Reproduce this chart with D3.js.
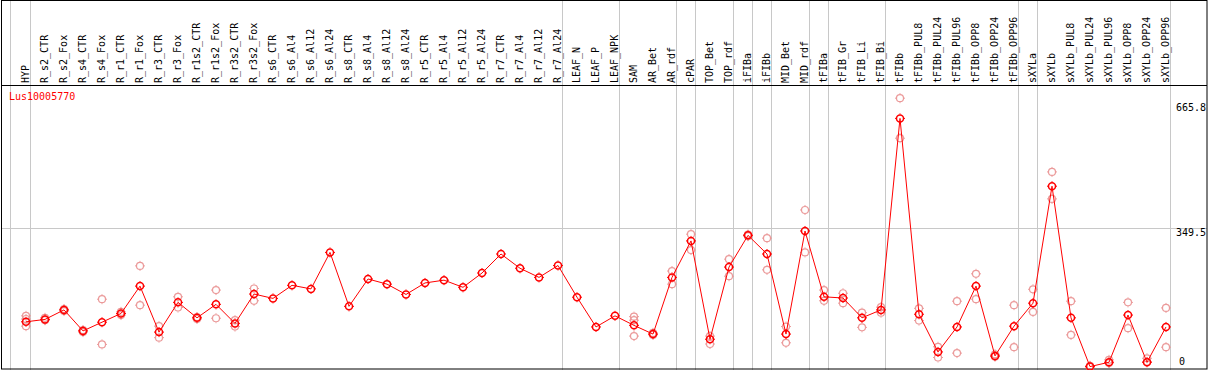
<!DOCTYPE html>
<html>
<head>
<meta charset="utf-8">
<script src="https://cdn.jsdelivr.net/npm/d3@7"></script>
<style>
  html, body { margin: 0; padding: 0; background: #fff; }
  svg { display: block; }
  text { font-family: "DejaVu Sans Mono", monospace; font-size: 10px; }
</style>
</head>
<body>
<svg id="chart" width="1209" height="370"></svg>
<script>
var GENE = "Lus10005770";

var categories = [
  "HYP", "R_s2_CTR", "R_s2_Fox", "R_s4_CTR", "R_s4_Fox", "R_r1_CTR", "R_r1_Fox",
  "R_r3_CTR", "R_r3_Fox", "R_r1s2_CTR", "R_r1s2_Fox", "R_r3s2_CTR", "R_r3s2_Fox",
  "R_s6_CTR", "R_s6_Al4", "R_s6_Al12", "R_s6_Al24", "R_s8_CTR", "R_s8_Al4",
  "R_s8_Al12", "R_s8_Al24", "R_r5_CTR", "R_r5_Al4", "R_r5_Al12", "R_r5_Al24",
  "R_r7_CTR", "R_r7_Al4", "R_r7_Al12", "R_r7_Al24", "LEAF_N", "LEAF_P", "LEAF_NPK",
  "SAM", "AR_Bet", "AR_rdf", "cPAR", "TOP_Bet", "TOP_rdf", "iFIBa", "iFIBb",
  "MID_Bet", "MID_rdf", "tFIBa", "tFIB_Gr", "tFIB_Li", "tFIB_Bi", "tFIBb",
  "tFIBb_PUL8", "tFIBb_PUL24", "tFIBb_PUL96", "tFIBb_OPP8", "tFIBb_OPP24", "tFIBb_OPP96",
  "sXYLa", "sXYLb", "sXYLb_PUL8", "sXYLb_PUL24", "sXYLb_PUL96", "sXYLb_OPP8",
  "sXYLb_OPP24", "sXYLb_OPP96"
];

// mean expression per sample
var means = [
  114, 120, 144, 91, 113, 135, 204, 88, 163, 124, 158, 110, 184,
  173, 206, 197, 289, 153, 222, 209, 183, 212, 219, 201, 237,
  285, 249, 226, 256, 176, 101, 129,
  105, 83, 226, 318, 70, 252, 332, 285,
  83, 343, 177, 174, 124, 144, 627,
  133, 38, 101, 204, 28, 103,
  161, 456, 124, 1, 12, 131, 12, 101
];

// individual replicates (empty where they sit under the mean)
var replicates = [
  [129, 121, 103], [124, 118], [146, 141], [93, 88], [171, 57], [139, 131], [255, 156],
  [103, 74], [177, 150], [126, 121], [194, 123], [118, 102], [198, 167],
  [], [], [], [], [], [], [], [], [], [], [], [],
  [], [], [], [], [], [], [],
  [127, 118, 78], [86, 81], [242, 209], [335, 295], [78, 58], [272, 229], [334, 330], [325, 245],
  [102, 61], [396, 289], [194, 167], [186, 161], [137, 100], [151, 137], [678, 577],
  [148, 117], [51, 24], [166, 35], [235, 171], [32, 26], [156, 50],
  [196, 139], [492, 424], [166, 81], [3, 0], [18, 10], [163, 98], [22, 13], [149, 50]
];

// last sample of each group; a grey rule follows it
var groupEnds = [
  "HYP", "R_r7_Al24", "LEAF_NPK", "AR_rdf", "cPAR", "TOP_rdf", "iFIBa", "iFIBb",
  "MID_rdf", "tFIBa", "tFIB_Bi", "tFIBb_OPP96", "sXYLa", "sXYLb_OPP96"
];

var yTicks = [0, 349.5, 665.8];

var W = 1209, H = 370;
var HEADER = 85;
var GRID = "#c8c8c8";

var svg = d3.select("#chart");

var x = d3.scaleBand()
  .domain(categories)
  .range([16.5, 16.5 + 19 * categories.length]);
function cx(c) { return x(c) + x.bandwidth() / 2; }

var y = d3.scaleLinear()
  .domain([0, 665.8])
  .range([367, 103]);

// ── Grey rules ───────────────────────────────────────────────────
svg.append("line")
  .attr("x1", 10.5).attr("x2", 10.5)
  .attr("y1", 0).attr("y2", H)
  .attr("stroke", GRID);

svg.selectAll(".sep")
  .data(groupEnds)
  .enter()
  .append("line")
  .attr("class", "sep")
  .attr("x1", function (d) { return cx(d) + 4.5; })
  .attr("x2", function (d) { return cx(d) + 4.5; })
  .attr("y1", 0).attr("y2", H)
  .attr("stroke", GRID);

svg.append("line")
  .attr("x1", 1).attr("x2", W - 2)
  .attr("y1", Math.round(y(349.5)) + 0.5)
  .attr("y2", Math.round(y(349.5)) + 0.5)
  .attr("stroke", GRID);

// ── Frame ────────────────────────────────────────────────────────
svg.append("rect")
  .attr("x", 1.5).attr("y", 0.5)
  .attr("width", W - 3.5).attr("height", H - 1.5)
  .attr("fill", "none")
  .attr("stroke", "#000");

svg.append("line")
  .attr("x1", 1).attr("x2", W - 2)
  .attr("y1", HEADER + 0.5).attr("y2", HEADER + 0.5)
  .attr("stroke", "#000");

// ── Column labels ────────────────────────────────────────────────
svg.selectAll(".collabel")
  .data(categories)
  .enter()
  .append("text")
  .attr("class", "collabel")
  .attr("transform", function (d) {
    return "translate(" + (cx(d) + 2.5) + "," + (HEADER - 2) + ") rotate(-90)";
  })
  .attr("fill", "#000")
  .text(function (d) { return d; });

// ── Gene name and value labels ───────────────────────────────────
svg.append("text")
  .attr("x", 9).attr("y", 100)
  .attr("fill", "#ff0000")
  .text(GENE);

svg.selectAll(".ylabel")
  .data(yTicks)
  .enter()
  .append("text")
  .attr("class", "ylabel")
  .attr("x", function (d) { return d === 0 ? 1179 : 1176; })
  .attr("y", function (d) { return d === 0 ? 365 : y(d) + 8; })
  .attr("fill", "#000")
  .text(function (d) { return d === 0 ? "0" : d3.format(".1f")(d); });

// ── Markers ──────────────────────────────────────────────────────
function marker(g, color, width) {
  g.append("circle")
    .attr("r", 3.5)
    .attr("fill", "none")
    .attr("stroke", color)
    .attr("stroke-width", width);
  g.append("path")
    .attr("d", "M0,-5V-4M0,4V5M-5,0H-4M4,0H5")
    .attr("stroke", color)
    .attr("stroke-width", 1);
}

var repData = [];
categories.forEach(function (c, i) {
  replicates[i].forEach(function (v) { repData.push({ cat: c, value: v }); });
});

svg.selectAll(".rep")
  .data(repData)
  .enter()
  .append("g")
  .attr("class", "rep")
  .attr("transform", function (d) {
    return "translate(" + cx(d.cat) + "," + y(d.value) + ")";
  })
  .each(function () { marker(d3.select(this), "#eb9a9a", 1.2); });

var meanData = categories.map(function (c, i) { return { cat: c, value: means[i] }; });

svg.append("path")
  .datum(meanData)
  .attr("fill", "none")
  .attr("stroke", "#ff0000")
  .attr("stroke-width", 1)
  .attr("d", d3.line()
    .x(function (d) { return cx(d.cat); })
    .y(function (d) { return y(d.value); }));

svg.selectAll(".mean")
  .data(meanData)
  .enter()
  .append("g")
  .attr("class", "mean")
  .attr("transform", function (d) {
    return "translate(" + cx(d.cat) + "," + y(d.value) + ")";
  })
  .each(function () { marker(d3.select(this), "#ff0000", 1.5); });
</script>
</body>
</html>
